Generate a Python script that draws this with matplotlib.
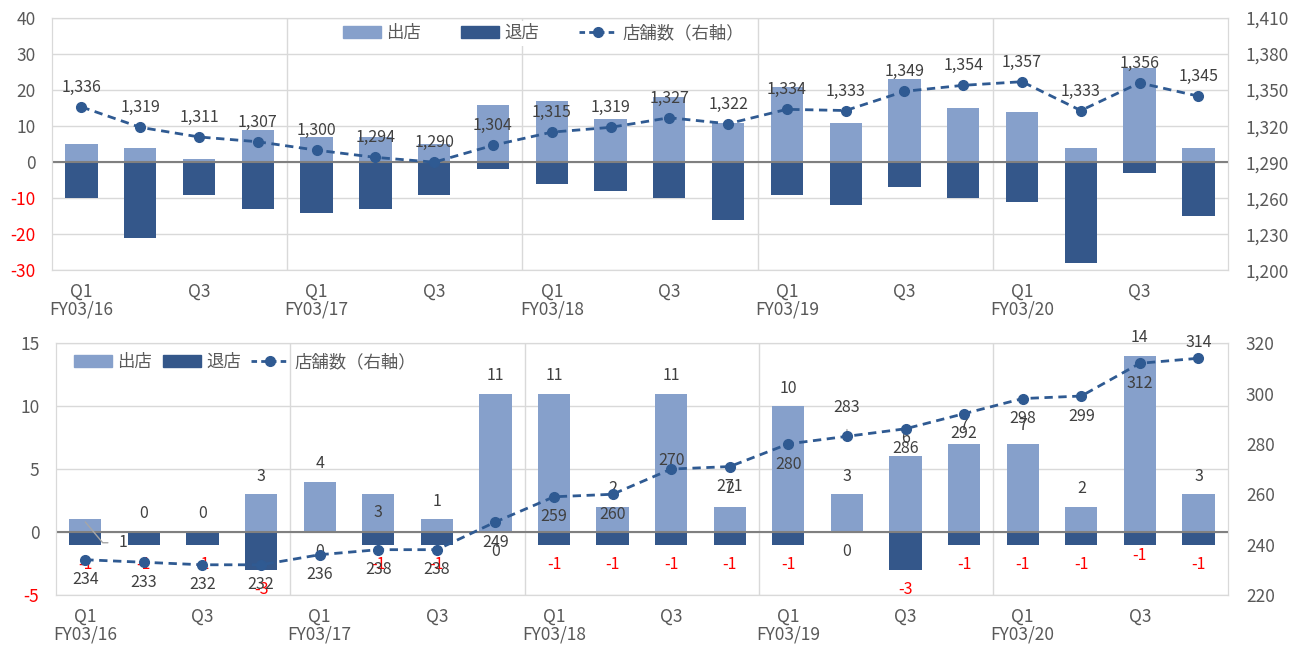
import matplotlib.pyplot as plt
from matplotlib.patches import Patch
from matplotlib.lines import Line2D

plt.rcParams['font.family'] = ['Noto Sans CJK JP', 'DejaVu Sans']

quarters = ['Q1\nFY03/16', '', 'Q3', '', 'Q1\nFY03/17', '', 'Q3', '',
            'Q1\nFY03/18', '', 'Q3', '', 'Q1\nFY03/19', '', 'Q3', '',
            'Q1\nFY03/20', '', 'Q3', '']

# upper chart
top_open = [5, 4, 1, 9, 7, 7, 5, 16, 17, 12, 18, 11, 21, 11, 23, 15, 14, 4, 26, 4]
top_close = [-10, -21, -9, -13, -14, -13, -9, -2, -6, -8, -10, -16, -9, -12, -7, -10, -11, -28, -3, -15]
top_stores = [1336, 1319, 1311, 1307, 1300, 1294, 1290, 1304, 1315, 1319,
              1327, 1322, 1334, 1333, 1349, 1354, 1357, 1333, 1356, 1345]
top_left_ticks = [-30, -20, -10, 0, 10, 20, 30, 40]
top_right_ticks = [1200, 1230, 1260, 1290, 1320, 1350, 1380, 1410]

# lower chart
bot_open = [1, 0, 0, 3, 4, 3, 1, 11, 11, 2, 11, 2, 10, 3, 6, 7, 7, 2, 14, 3]
bot_close = [-1, -1, -1, -3, 0, -1, -1, 0, -1, -1, -1, -1, -1, 0, -3, -1, -1, -1, -1, -1]
bot_stores = [234, 233, 232, 232, 236, 238, 238, 249, 259, 260,
              270, 271, 280, 283, 286, 292, 298, 299, 312, 314]
bot_left_ticks = [-5, 0, 5, 10, 15]
bot_right_ticks = [220, 240, 260, 280, 300, 320]

labels = ['出店', '退店', '店舗数（右軸）']

C_OPEN = '#86A0CB'
C_CLOSE = '#34578A'
C_LINE = '#2F5A92'
C_TEXT = '#595959'
C_LABEL = '#404040'
C_GRID = '#D9D9D9'

x = list(range(len(quarters)))


def draw_panel(ax, opens, closes, stores, lticks, rticks):
    ax.bar(x, opens, width=0.55, color=C_OPEN, zorder=2)
    ax.bar(x, closes, width=0.55, color=C_CLOSE, zorder=2)
    ax.set_xlim(-0.5, len(x) - 0.5)
    ax.set_ylim(lticks[0], lticks[-1])
    ax.set_yticks(lticks)
    ax.set_yticklabels([str(v) for v in lticks])
    for lab, v in zip(ax.get_yticklabels(), lticks):
        lab.set_color('#FF0000' if v < 0 else C_TEXT)
    ax.set_xticks(x)
    ax.set_xticklabels(quarters, color=C_TEXT, fontsize=12.5, linespacing=1.0)
    ax.tick_params(axis='both', length=0, labelsize=12.5)
    ax.tick_params(axis='y', pad=12)
    ax.tick_params(axis='x', pad=9)
    ax.yaxis.grid(True, color=C_GRID, lw=1, zorder=0)
    ax.set_axisbelow(True)
    for xs in [3.5, 7.5, 11.5, 15.5]:
        ax.axvline(xs, color=C_GRID, lw=1, zorder=1)
    ax.axhline(0, color='#808080', lw=1.5, zorder=3)
    for sp in ax.spines.values():
        sp.set_color(C_GRID)

    ax2 = ax.twinx()
    ax2.plot(x, stores, color=C_LINE, lw=2, linestyle=(0, (3, 2)),
             marker='o', markersize=7, zorder=4)
    ax2.set_ylim(rticks[0], rticks[-1])
    ax2.set_yticks(rticks)
    ax2.set_yticklabels([f'{v:,}' for v in rticks], color=C_TEXT)
    ax2.tick_params(axis='y', length=0, labelsize=12.5, pad=13)
    for sp in ax2.spines.values():
        sp.set_color(C_GRID)
    return ax2


def legend_handles():
    return [Patch(color=C_OPEN), Patch(color=C_CLOSE),
            Line2D([0], [0], color=C_LINE, lw=2, linestyle=(0, (2, 1.5)),
                   marker='o', markersize=7)]


fig = plt.figure(figsize=(13.02, 6.45), dpi=100)

# ---- upper panel
ax1 = fig.add_axes([0.040, 0.581, 0.903, 0.391])
ax1r = draw_panel(ax1, top_open, top_close, top_stores, top_left_ticks, top_right_ticks)
for i, v in enumerate(top_stores):
    ax1r.annotate(f'{v:,}', (i, v), xytext=(0, 14), textcoords='offset points',
                  ha='center', va='center', fontsize=11.5, color=C_LABEL)
leg = ax1r.legend(legend_handles(), labels, loc='center', bbox_to_anchor=(0.418, 0.94),
                  ncol=3, fontsize=12.5, frameon=True, facecolor='white', edgecolor='none',
                  framealpha=1, handlelength=2.2, handletextpad=0.3, columnspacing=2.3,
                  borderpad=0.2, fancybox=False)
for t in leg.get_texts():
    t.set_color(C_TEXT)

# ---- lower panel
ax3 = fig.add_axes([0.043, 0.0775, 0.900, 0.3905])
ax3r = draw_panel(ax3, bot_open, bot_close, bot_stores, bot_left_ticks, bot_right_ticks)

for i, v in enumerate(bot_open):
    if i == 0:
        ax3.annotate(str(v), (i, v * 0.8), xytext=(i + 0.65, -0.85), textcoords='data',
                     ha='center', va='center', fontsize=11.5, color=C_LABEL,
                     arrowprops=dict(arrowstyle='-', color='#A6A6A6', lw=1,
                                     shrinkA=6, shrinkB=0,
                                     connectionstyle='angle,angleA=0,angleB=-50,rad=0'))
        continue
    dy = -13 if i == 5 else 13
    ax3.annotate(str(v), (i, v), xytext=(0, dy), textcoords='offset points',
                 ha='center', va='center', fontsize=11.5, color=C_LABEL)

for i, v in enumerate(bot_close):
    dy = -8 if i == 18 else -14
    ax3.annotate(str(v), (i, v), xytext=(0, dy), textcoords='offset points',
                 ha='center', va='center', fontsize=11.5,
                 color='#FF0000' if v < 0 else C_LABEL)

above = {10: 6.5, 13: 21, 19: 11}
for i, v in enumerate(bot_stores):
    if i == 13:
        ax3r.annotate(str(v), (i, v), xytext=(0, above[i]), textcoords='offset points',
                      ha='center', va='center', fontsize=11.5, color=C_LABEL,
                      arrowprops=dict(arrowstyle='-', color='#A6A6A6', lw=1,
                                      shrinkA=8, shrinkB=5))
        continue
    dy = above.get(i, -14.5)
    ax3r.annotate(str(v), (i, v), xytext=(0, dy), textcoords='offset points',
                  ha='center', va='center', fontsize=11.5, color=C_LABEL)

leg2 = ax3r.legend(legend_handles(), labels, loc='center left', bbox_to_anchor=(0.005, 0.925),
                   ncol=3, fontsize=12.5, frameon=False, handlelength=2.2,
                   handletextpad=0.3, columnspacing=0.6, borderpad=0.2)
for t in leg2.get_texts():
    t.set_color(C_TEXT)

fig.savefig('out.png', dpi=100)
